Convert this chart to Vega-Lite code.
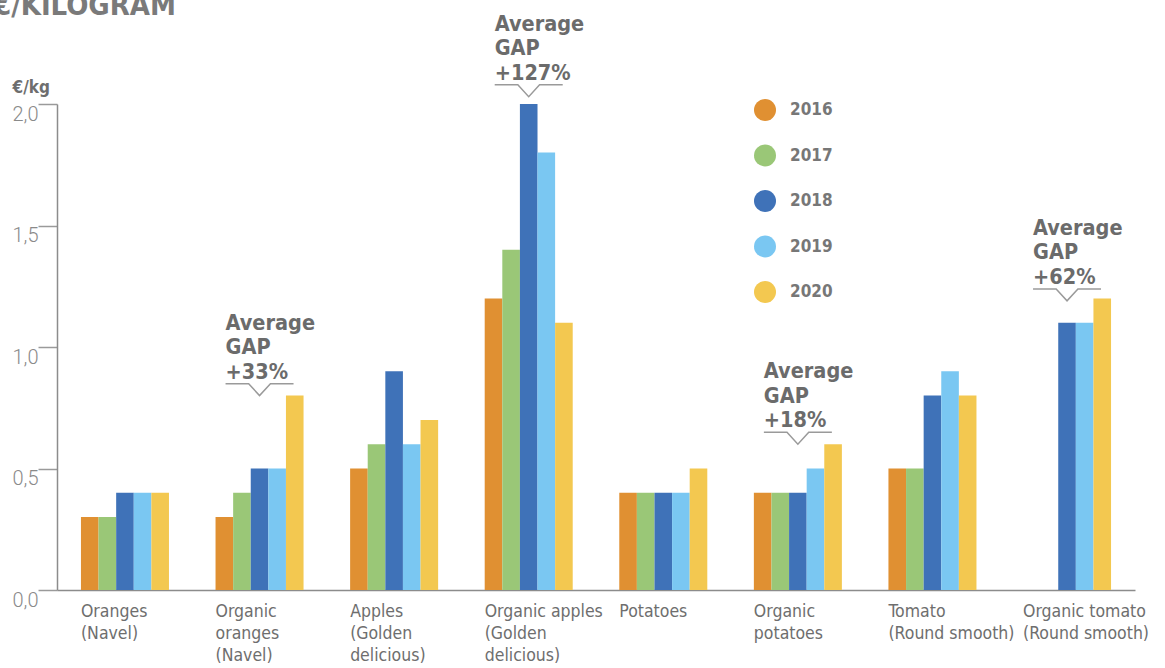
{
  "$schema": "https://vega.github.io/schema/vega-lite/v6.json",
  "width": 1078,
  "height": 486,
  "autosize": {"type": "none"},
  "padding": {"left": 57, "top": 104, "right": 30, "bottom": 78},
  "background": "white",
  "title": {
    "text": "€/KILOGRAM",
    "anchor": "start",
    "frame": "group",
    "orient": "top",
    "offset": 0,
    "dx": -64,
    "dy": 30,
    "baseline": "alphabetic",
    "fontSize": 29,
    "fontWeight": "bold",
    "color": "#7a7a7a",
    "font": "DejaVu Sans Condensed, sans-serif"
  },
  "config": {
    "view": {"stroke": null},
    "font": "DejaVu Sans Condensed, sans-serif"
  },
  "datasets": {
    "prices": [
      {"product": "Oranges|(Navel)", "year": "2016", "price": 0.3},
      {"product": "Oranges|(Navel)", "year": "2017", "price": 0.3},
      {"product": "Oranges|(Navel)", "year": "2018", "price": 0.4},
      {"product": "Oranges|(Navel)", "year": "2019", "price": 0.4},
      {"product": "Oranges|(Navel)", "year": "2020", "price": 0.4},
      {"product": "Organic|oranges|(Navel)", "year": "2016", "price": 0.3},
      {"product": "Organic|oranges|(Navel)", "year": "2017", "price": 0.4},
      {"product": "Organic|oranges|(Navel)", "year": "2018", "price": 0.5},
      {"product": "Organic|oranges|(Navel)", "year": "2019", "price": 0.5},
      {"product": "Organic|oranges|(Navel)", "year": "2020", "price": 0.8},
      {"product": "Apples|(Golden|delicious)", "year": "2016", "price": 0.5},
      {"product": "Apples|(Golden|delicious)", "year": "2017", "price": 0.6},
      {"product": "Apples|(Golden|delicious)", "year": "2018", "price": 0.9},
      {"product": "Apples|(Golden|delicious)", "year": "2019", "price": 0.6},
      {"product": "Apples|(Golden|delicious)", "year": "2020", "price": 0.7},
      {"product": "Organic apples|(Golden|delicious)", "year": "2016", "price": 1.2},
      {"product": "Organic apples|(Golden|delicious)", "year": "2017", "price": 1.4},
      {"product": "Organic apples|(Golden|delicious)", "year": "2018", "price": 2.0},
      {"product": "Organic apples|(Golden|delicious)", "year": "2019", "price": 1.8},
      {"product": "Organic apples|(Golden|delicious)", "year": "2020", "price": 1.1},
      {"product": "Potatoes", "year": "2016", "price": 0.4},
      {"product": "Potatoes", "year": "2017", "price": 0.4},
      {"product": "Potatoes", "year": "2018", "price": 0.4},
      {"product": "Potatoes", "year": "2019", "price": 0.4},
      {"product": "Potatoes", "year": "2020", "price": 0.5},
      {"product": "Organic|potatoes", "year": "2016", "price": 0.4},
      {"product": "Organic|potatoes", "year": "2017", "price": 0.4},
      {"product": "Organic|potatoes", "year": "2018", "price": 0.4},
      {"product": "Organic|potatoes", "year": "2019", "price": 0.5},
      {"product": "Organic|potatoes", "year": "2020", "price": 0.6},
      {"product": "Tomato|(Round smooth)", "year": "2016", "price": 0.5},
      {"product": "Tomato|(Round smooth)", "year": "2017", "price": 0.5},
      {"product": "Tomato|(Round smooth)", "year": "2018", "price": 0.8},
      {"product": "Tomato|(Round smooth)", "year": "2019", "price": 0.9},
      {"product": "Tomato|(Round smooth)", "year": "2020", "price": 0.8},
      {"product": "Organic tomato|(Round smooth)", "year": "2018", "price": 1.1},
      {"product": "Organic tomato|(Round smooth)", "year": "2019", "price": 1.1},
      {"product": "Organic tomato|(Round smooth)", "year": "2020", "price": 1.2}
    ],
    "gaps": [
      {"product": "Organic|oranges|(Navel)", "year": "2018", "tip": 0.8, "label": ["Average", "GAP", "+33%"]},
      {"product": "Organic apples|(Golden|delicious)", "year": "2018", "tip": 2.03, "label": ["Average", "GAP", "+127%"]},
      {"product": "Organic|potatoes", "year": "2018", "tip": 0.6, "label": ["Average", "GAP", "+18%"]},
      {"product": "Organic tomato|(Round smooth)", "year": "2018", "tip": 1.19, "label": ["Average", "GAP", "+62%"]}
    ]
  },
  "layer": [
    {
      "data": {"name": "prices"},
      "mark": {"type": "bar"},
      "encoding": {
        "x": {
          "field": "product",
          "type": "nominal",
          "sort": ["Oranges|(Navel)", "Organic|oranges|(Navel)", "Apples|(Golden|delicious)", "Organic apples|(Golden|delicious)", "Potatoes", "Organic|potatoes", "Tomato|(Round smooth)", "Organic tomato|(Round smooth)"],
          "scale": {"paddingInner": 0.346, "paddingOuter": 0.178},
          "axis": {
            "title": null,
            "labelAngle": 0,
            "labelAlign": "left",
            "labelBaseline": "top",
            "labelOffset": -44,
            "labelPadding": 12,
            "labelFontSize": 17.5,
            "labelLineHeight": 22,
            "labelColor": "#6e6e6e",
            "labelLimit": 300,
            "ticks": false,
            "domainColor": "#8c8c8c",
            "domainWidth": 1.5,
            "labelExpr": "split(datum.label, '|')"
          }
        },
        "xOffset": {
          "field": "year",
          "type": "nominal",
          "sort": ["2016", "2017", "2018", "2019", "2020"],
          "scale": {"paddingInner": 0, "paddingOuter": 0}
        },
        "y": {
          "field": "price",
          "type": "quantitative",
          "scale": {"domain": [0, 2], "nice": false},
          "axis": {
            "title": "€/kg",
            "titleAngle": 0,
            "titleAlign": "left",
            "titleBaseline": "alphabetic",
            "titleX": -45,
            "titleY": -12,
            "titleFontSize": 17,
            "titleFontWeight": "bold",
            "titleColor": "#6e6e6e",
            "values": [0, 0.5, 1, 1.5, 2],
            "labelExpr": "replace(format(datum.value, '.1f'), '.', ',')",
            "labelFont": "Roboto",
            "labelFontWeight": 300,
            "labelFontSize": 20,
            "labelColor": "#8a8a8a",
            "labelBaseline": "top",
            "labelAlign": "right",
            "labelPadding": 0,
            "tickSize": 19,
            "tickColor": "#9a9a9a",
            "tickWidth": 1.5,
            "domainColor": "#8c8c8c",
            "domainWidth": 1.5,
            "grid": false
          }
        },
        "color": {
          "field": "year",
          "type": "nominal",
          "scale": {
            "domain": ["2016", "2017", "2018", "2019", "2020"],
            "range": ["#E09032", "#9AC777", "#3F72B8", "#7AC7F2", "#F3C850"]
          },
          "legend": {
            "title": null,
            "orient": "none",
            "legendX": 697,
            "legendY": -5,
            "padding": 0,
            "symbolType": "circle",
            "symbolSize": 484,
            "symbolStrokeWidth": 0,
            "symbolOpacity": 1,
            "labelFontSize": 17,
            "labelFontWeight": "bold",
            "labelColor": "#777777",
            "labelOffset": 14,
            "rowPadding": 23.5
          }
        }
      }
    },
    {
      "data": {"name": "gaps"},
      "mark": {
        "type": "point",
        "shape": "M-1,-0.35L-0.32,-0.35L0,0L0.32,-0.35L1,-0.35",
        "size": 4624,
        "filled": false,
        "stroke": "#9a9a9a",
        "strokeWidth": 1.5,
        "opacity": 1
      },
      "encoding": {
        "x": {
          "field": "product",
          "type": "nominal",
          "sort": ["Oranges|(Navel)", "Organic|oranges|(Navel)", "Apples|(Golden|delicious)", "Organic apples|(Golden|delicious)", "Potatoes", "Organic|potatoes", "Tomato|(Round smooth)", "Organic tomato|(Round smooth)"]
        },
        "xOffset": {"field": "year", "type": "nominal", "sort": ["2016", "2017", "2018", "2019", "2020"]},
        "y": {"field": "tip", "type": "quantitative"}
      }
    },
    {
      "data": {"name": "gaps"},
      "mark": {
        "type": "text",
        "align": "left",
        "baseline": "alphabetic",
        "dx": -34,
        "dy": -66,
        "lineHeight": 24.5,
        "fontSize": 21.5,
        "fontWeight": "bold",
        "color": "#6b6b6b"
      },
      "encoding": {
        "x": {
          "field": "product",
          "type": "nominal",
          "sort": ["Oranges|(Navel)", "Organic|oranges|(Navel)", "Apples|(Golden|delicious)", "Organic apples|(Golden|delicious)", "Potatoes", "Organic|potatoes", "Tomato|(Round smooth)", "Organic tomato|(Round smooth)"]
        },
        "xOffset": {"field": "year", "type": "nominal", "sort": ["2016", "2017", "2018", "2019", "2020"]},
        "y": {"field": "tip", "type": "quantitative"},
        "text": {"field": "label"}
      }
    }
  ]
}
